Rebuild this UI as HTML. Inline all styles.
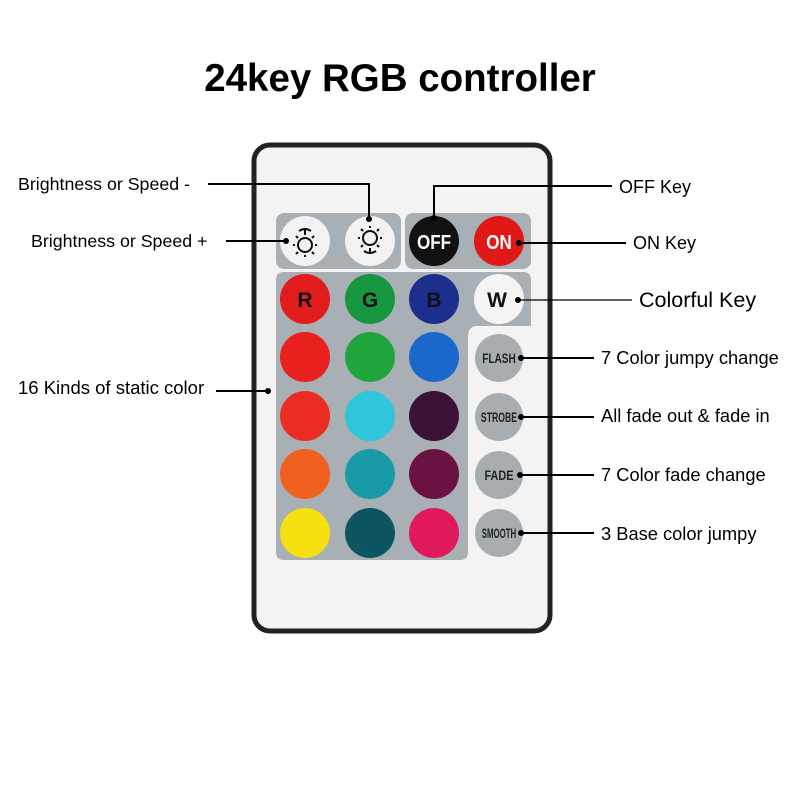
<!DOCTYPE html>
<html><head><style>
html,body{margin:0;padding:0;background:#fff;}
svg{display:block;}
text{font-family:"Liberation Sans",Arial,sans-serif;}
</style></head><body>
<svg width="800" height="800" viewBox="0 0 800 800" xmlns="http://www.w3.org/2000/svg">
<text x="400" y="91" font-size="38.5" font-weight="bold" text-anchor="middle" fill="#000">24key RGB controller</text>
<rect x="254" y="145" width="296" height="486" rx="16" fill="#f3f3f3" stroke="#222" stroke-width="5"/>
<rect x="276" y="213" width="125" height="56" rx="8" fill="#a9b0b5"/>
<rect x="405" y="213" width="126" height="56" rx="8" fill="#a9b0b5"/>
<path d="M284 272 H523 Q531 272 531 280 V326 H478 Q468 326 468 336 V552 Q468 560 460 560 H284 Q276 560 276 552 V280 Q276 272 284 272 Z" fill="#a9b0b5"/>
<g stroke="none">
<circle cx="305" cy="241" r="25" fill="#f2f2f2"/>
<circle cx="370" cy="241" r="25" fill="#f2f2f2"/>
<circle cx="434" cy="241" r="25" fill="#111"/>
<circle cx="499" cy="241" r="25" fill="#e01818"/>
<circle cx="305" cy="299" r="25" fill="#e01c1c"/>
<circle cx="370" cy="299" r="25" fill="#15963f"/>
<circle cx="434" cy="299" r="25" fill="#1c2f8c"/>
<circle cx="499" cy="299" r="25" fill="#f4f4f4"/>
<circle cx="305" cy="357" r="25" fill="#e8201e"/>
<circle cx="370" cy="357" r="25" fill="#20a43c"/>
<circle cx="434" cy="357" r="25" fill="#1b68cc"/>
<circle cx="305" cy="416" r="25" fill="#ea2c22"/>
<circle cx="370" cy="416" r="25" fill="#2fc6dc"/>
<circle cx="434" cy="416" r="25" fill="#3a1236"/>
<circle cx="305" cy="474" r="25" fill="#f0601e"/>
<circle cx="370" cy="474" r="25" fill="#1a9aa8"/>
<circle cx="434" cy="474" r="25" fill="#6a1242"/>
<circle cx="305" cy="533" r="25" fill="#f6e012"/>
<circle cx="370" cy="533" r="25" fill="#0d5560"/>
<circle cx="434" cy="533" r="25" fill="#e0185c"/>
<circle cx="499" cy="358" r="24" fill="#a8adb1"/>
<circle cx="499" cy="417" r="24" fill="#a8adb1"/>
<circle cx="499" cy="475" r="24" fill="#a8adb1"/>
<circle cx="499" cy="533" r="24" fill="#a8adb1"/>
</g>
<g stroke="#111" stroke-width="2" fill="none">
<circle cx="305" cy="245" r="7"/>
<circle cx="370" cy="238" r="7"/>
<path d="M299 231 Q305 227 311 231 M305 229 v4"/>
<path d="M364 251 Q370 255 376 251 M370 253 v-4"/>
<path d="M305 235 v-2 M305 255 v2 M295 245 h-2 M315 245 h2 M298 238 l-2 -2 M312 238 l2 -2 M298 252 l-2 2 M312 252 l2 2"/>
<path d="M370 228 v-2 M370 248 v2 M360 238 h-2 M380 238 h2 M363 231 l-2 -2 M377 231 l2 -2 M363 245 l-2 2 M377 245 l2 2"/>
</g>
<g font-weight="bold" text-anchor="middle">
<text x="434" y="249" font-size="20" fill="#fff" transform="translate(434 0) scale(0.85 1) translate(-434 0)">OFF</text>
<text x="499" y="249" font-size="20" fill="#fff" transform="translate(499 0) scale(0.85 1) translate(-499 0)">ON</text>
<text x="305" y="307" font-size="21" fill="#111">R</text>
<text x="370" y="307" font-size="21" fill="#111">G</text>
<text x="434" y="307" font-size="21" fill="#111">B</text>
<text x="497" y="307" font-size="21" fill="#111">W</text>
<g font-size="14" fill="#222">
<text x="499" y="363" transform="translate(499 0) scale(0.72 1) translate(-499 0)">FLASH</text>
<text x="499" y="422" transform="translate(499 0) scale(0.62 1) translate(-499 0)">STROBE</text>
<text x="499" y="480" transform="translate(499 0) scale(0.78 1) translate(-499 0)">FADE</text>
<text x="499" y="538" transform="translate(499 0) scale(0.56 1) translate(-499 0)">SMOOTH</text>
</g>
</g>
<g stroke="#000" stroke-width="2" fill="none">
<path d="M208 184 H369 V217"/>
<path d="M226 241 H287"/>
<path d="M434 218 V186 H612"/>
<path d="M519 243 H626"/>
<path d="M518 300 H632" stroke-width="1.3"/>
<path d="M521 358 H594"/>
<path d="M521 417 H594"/>
<path d="M520 475 H594"/>
<path d="M521 533 H594"/>
<path d="M216 391 H268"/>
</g>
<g fill="#000">
<circle cx="369" cy="219" r="3"/>
<circle cx="286" cy="241" r="3"/>
<circle cx="434" cy="218" r="3"/>
<circle cx="519" cy="243" r="3"/>
<circle cx="518" cy="300" r="3"/>
<circle cx="521" cy="358" r="3"/>
<circle cx="521" cy="417" r="3"/>
<circle cx="520" cy="475" r="3"/>
<circle cx="521" cy="533" r="3"/>
<circle cx="268" cy="391" r="3"/>
</g>
<g font-size="18" fill="#000">
<text x="18" y="190" font-size="17.8">Brightness or Speed -</text>
<text x="31" y="247" font-size="17.8">Brightness or Speed +</text>
<text x="18" y="394" font-size="18.5">16 Kinds of static color</text>
<text x="619" y="193">OFF Key</text>
<text x="633" y="249">ON Key</text>
<text x="639" y="307" font-size="21.5">Colorful Key</text>
<text x="601" y="364" font-size="18.3">7 Color jumpy change</text>
<text x="601" y="422" font-size="18.3">All fade out &amp; fade in</text>
<text x="601" y="481" font-size="18.3">7 Color fade change</text>
<text x="601" y="540" font-size="18.3">3 Base color jumpy</text>
</g>
</svg>
</body></html>
